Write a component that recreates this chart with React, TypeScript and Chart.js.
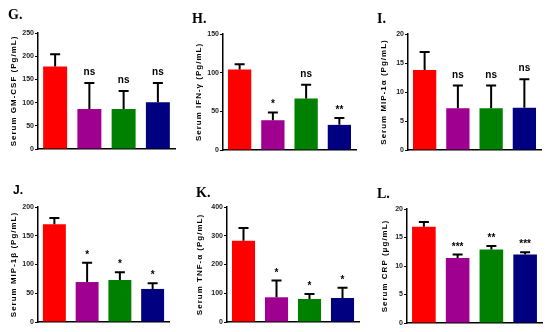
import React, { useEffect, useRef } from "react";
import { Chart, registerables } from "chart.js";

Chart.register(...registerables);

const groups = ["Group 1", "Group 2", "Group 3", "Group 4"];
const barColors = ["#ff0000", "#a0008f", "#008000", "#000080"];

// G. GM-CSF
const gmcsfMean = [178, 86, 86, 101];
const gmcsfErr = [26, 56, 39, 41];
const gmcsfSig = ["", "ns", "ns", "ns"];
// H. IFN-γ
const ifnMean = [104, 38.5, 66.5, 32.5];
const ifnErr = [7, 10, 18, 9];
const ifnSig = ["", "*", "ns", "**"];
// I. MIP-1α
const mip1aMean = [13.8, 7.2, 7.2, 7.3];
const mip1aErr = [3.1, 3.9, 3.9, 4.9];
const mip1aSig = ["", "ns", "ns", "ns"];
// J. MIP-1β
const mip1bMean = [170, 69.5, 73, 57.5];
const mip1bErr = [11, 33.5, 13.5, 10];
const mip1bSig = ["", "*", "*", "*"];
// K. TNF-α
const tnfMean = [283, 86, 80, 83.5];
const tnfErr = [44, 58, 17.5, 36];
const tnfSig = ["", "*", "*", "*"];
// L. CRP
const crpMean = [16.9, 11.4, 12.9, 12.0];
const crpErr = [0.8, 0.6, 0.6, 0.4];
const crpSig = ["", "***", "**", "***"];

type Panel = {
  letter: string;
  letterFont: string;
  title: string;
  max: number;
  step: number;
  mean: number[];
  err: number[];
  sig: string[];
  box: [number, number, number, number]; // canvas x, y, w, h (page)
  area: [number, number, number, number]; // chart area L, T, R, B (page)
  titleX: number; // page x of y-title center
  letterAt: [number, number];
};

const SERIF = "bold 14px 'Liberation Serif', 'Times New Roman', serif";
const SANS = "bold 12px 'Liberation Sans', Arial, sans-serif";

const panels: Panel[] = [
  { letter: "G.", letterFont: SERIF, title: "Serum GM-CSF (Pg/mL)", max: 250, step: 50, mean: gmcsfMean, err: gmcsfErr, sig: gmcsfSig, box: [0, 0, 184, 166], area: [38, 33, 175, 149], titleX: 13.3, letterAt: [8, 19] },
  { letter: "H.", letterFont: SERIF, title: "Serum IFN-\u03b3 (Pg/mL)", max: 150, step: 50, mean: ifnMean, err: ifnErr, sig: ifnSig, box: [186, 0, 182, 166], area: [223, 34, 356, 150], titleX: 198.3, letterAt: [192, 23] },
  { letter: "I.", letterFont: SERIF, title: "Serum MIP-1\u03b1 (Pg/mL)", max: 20, step: 5, mean: mip1aMean, err: mip1aErr, sig: mip1aSig, box: [370, 0, 180, 166], area: [408, 34, 541, 150], titleX: 384, letterAt: [377, 23] },
  { letter: "J.", letterFont: SANS, title: "Serum MIP-1\u03b2 (Pg/mL)", max: 200, step: 50, mean: mip1bMean, err: mip1bErr, sig: mip1bSig, box: [0, 166, 184, 166], area: [38, 207, 169, 322], titleX: 13.3, letterAt: [13, 194] },
  { letter: "K.", letterFont: SERIF, title: "Serum TNF-\u03b1 (Pg/mL)", max: 400, step: 100, mean: tnfMean, err: tnfErr, sig: tnfSig, box: [186, 166, 182, 166], area: [227, 207, 359, 322], titleX: 200, letterAt: [196, 197] },
  { letter: "L.", letterFont: SERIF, title: "Serum CRP (\u03bcg/mL)", max: 20, step: 5, mean: crpMean, err: crpErr, sig: crpSig, box: [370, 166, 180, 166], area: [407, 209, 542, 323], titleX: 385, letterAt: [377, 198] },
];

function PanelChart({ p }: { p: Panel }) {
  const ref = useRef<HTMLCanvasElement | null>(null);
  useEffect(() => {
    if (!ref.current) return;
    const [bx, by, bw, bh] = p.box;
    const [L, T, R, B] = p.area;
    const titleFontSize = 8;
    const padLeft = p.titleX - bx - (titleFontSize * 1.2) / 2;
    const axisWidth = L - bx - padLeft;
    const overlay = {
      id: "overlay",
      beforeDraw(chart: any) {
        const s = chart.scales.y;
        if (s && !s._spaced) {
          const orig = s.drawTitle.bind(s);
          s.drawTitle = function () {
            const c = chart.ctx as any;
            const prev = c.letterSpacing;
            c.letterSpacing = "1px";
            orig();
            c.letterSpacing = prev || "0px";
          };
          s._spaced = true;
        }
      },
      afterDatasetsDraw(chart: any) {
        const ctx = chart.ctx as CanvasRenderingContext2D;
        const meta = chart.getDatasetMeta(0);
        const y = chart.scales.y;
        ctx.save();
        ctx.strokeStyle = "#000";
        ctx.lineWidth = 2;
        meta.data.forEach((el: any, i: number) => {
          const top = y.getPixelForValue(p.mean[i] + p.err[i]);
          const x = el.x;
          ctx.beginPath();
          ctx.moveTo(x, el.y);
          ctx.lineTo(x, top);
          ctx.moveTo(x - 5, top);
          ctx.lineTo(x + 5, top);
          ctx.stroke();
          const s = p.sig[i];
          if (s) {
            ctx.fillStyle = "#000";
            ctx.textAlign = "center";
            ctx.textBaseline = "alphabetic";
            if (s === "ns") {
              ctx.font = "bold 10px 'Liberation Sans', Arial, sans-serif";
              ctx.fillText(s, x, top - 8);
            } else {
              ctx.font = "bold 10px 'Liberation Sans', Arial, sans-serif";
              ctx.fillText(s, x, top - 5);
            }
          }
        });
        ctx.fillStyle = "#000";
        ctx.font = p.letterFont;
        ctx.textAlign = "left";
        ctx.textBaseline = "alphabetic";
        ctx.fillText(p.letter, p.letterAt[0] - bx, p.letterAt[1] - by);
        ctx.restore();
      },
    };
    const chart = new Chart(ref.current, {
      type: "bar",
      data: {
        labels: groups,
        datasets: [
          {
            data: p.mean,
            backgroundColor: barColors,
            borderWidth: 0,
            barPercentage: 0.7,
            categoryPercentage: 1,
          },
        ],
      },
      options: {
        responsive: false,
        animation: false,
        layout: {
          padding: { left: padLeft, top: T - by, right: bx + bw - R, bottom: by + bh - B },
        },
        plugins: { legend: { display: false }, tooltip: { enabled: false }, title: { display: false } },
        scales: {
          x: {
            type: "category",
            grid: { display: false },
            ticks: { display: false },
            border: { display: true, color: "#000", width: 1.5 },
            afterFit: (axis: any) => {
              axis.height = 0;
            },
          },
          y: {
            min: 0,
            max: p.max,
            ticks: {
              stepSize: p.step,
              color: "#222",
              padding: 1,
              font: { size: 7, weight: "bold", family: "'Liberation Sans', Arial, sans-serif" },
            },
            grid: { display: true, drawOnChartArea: false, drawTicks: true, tickLength: 3, color: "#000", lineWidth: 1 },
            border: { display: true, color: "#000", width: 1.5 },
            title: {
              display: true,
              text: p.title,
              color: "#000",
              padding: 0,
              font: { size: titleFontSize, weight: "bold", family: "'Liberation Sans', Arial, sans-serif" },
            },
            afterFit: (axis: any) => {
              axis.width = axisWidth;
            },
          },
        },
      },
      plugins: [overlay],
    } as any);
    return () => chart.destroy();
  }, [p]);
  const [bx, by, bw, bh] = p.box;
  return (
    <canvas
      ref={ref}
      width={bw}
      height={bh}
      style={{ position: "absolute", left: bx, top: by, width: bw, height: bh, display: "block" }}
    />
  );
}

export default function App() {
  return (
    <div style={{ position: "absolute", left: 0, top: 0, width: 550, height: 332, background: "#fff", overflow: "hidden" }}>
      {panels.map((p) => (
        <PanelChart key={p.letter} p={p} />
      ))}
    </div>
  );
}
